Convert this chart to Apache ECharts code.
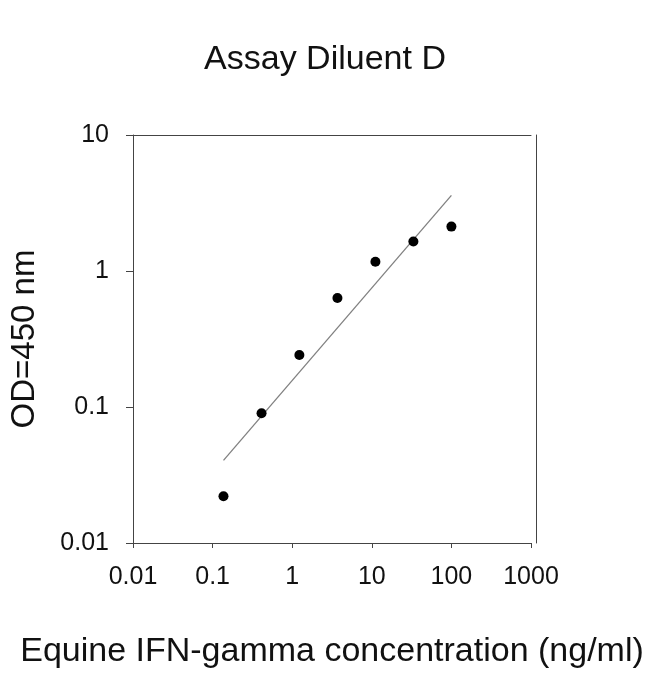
<!DOCTYPE html>
<html>
<head>
<meta charset="utf-8">
<script src="https://cdn.jsdelivr.net/npm/echarts@6/dist/echarts.min.js"></script>
<style>
html,body{margin:0;padding:0;background:#fff;}
#chart{width:650px;height:674px;}
</style>
</head>
<body>
<div id="chart"></div>
<script>
// Concentration (ng/ml) and measured OD=450 nm
var concentration = [0.137, 0.412, 1.23, 3.7, 11.1, 33.3, 100];
var odValues = [0.0221, 0.090, 0.241, 0.634, 1.17, 1.65, 2.12];
// Fitted line end points
var fitX = [0.137, 100];
var fitY = [0.0405, 3.6];
// Tick labels
var xTickLabels = ['0.01', '0.1', '1', '10', '100', '1000'];
var yTickLabels = ['0.01', '0.1', '1', '10'];

var FONT = '"Liberation Sans", Arial, sans-serif';

function labelFor(list, minExp) {
  return function (v) {
    var i = Math.round(Math.log10(v)) - minExp;
    return list[i] !== undefined ? list[i] : '';
  };
}

var points = concentration.map(function (c, i) { return [c, odValues[i]]; });
var fitLine = fitX.map(function (x, i) { return [x, fitY[i]]; });

var axisColor = '#444';
var chart = echarts.init(document.getElementById('chart'), null, {renderer: 'canvas'});
chart.setOption({
  animation: false,
  backgroundColor: '#fff',
  title: {
    text: 'Assay Diluent D',
    left: 'center',
    top: 38,
    textStyle: {fontFamily: FONT, fontSize: 34, fontWeight: 'normal', color: '#111'}
  },
  grid: {left: 129, right: 119, top: 135, bottom: 126, containLabel: false},
  xAxis: [{
    type: 'log', logBase: 10, min: 0.01, max: 1000,
    position: 'bottom',
    name: 'Equine IFN-gamma concentration (ng/ml)',
    nameLocation: 'middle', nameGap: 92,
    nameTextStyle: {fontFamily: FONT, fontSize: 34, color: '#111'},
    axisLine: {show: true, lineStyle: {color: axisColor, width: 1}},
    axisTick: {show: true, length: 5, inside: false, lineStyle: {color: axisColor}},
    minorTick: {show: false},
    splitLine: {show: false},
    axisLabel: {fontFamily: FONT, fontSize: 25, color: '#111', margin: 22, formatter: labelFor(xTickLabels, -2)}
  }, {
    type: 'log', logBase: 10, min: 0.01, max: 1000,
    position: 'top',
    axisLine: {show: true, lineStyle: {color: axisColor, width: 1}},
    axisTick: {show: false}, axisLabel: {show: false}, splitLine: {show: false}
  }],
  yAxis: [{
    type: 'log', logBase: 10, min: 0.01, max: 10,
    position: 'left',
    name: 'OD=450 nm',
    nameLocation: 'middle', nameGap: 92, nameRotate: 90,
    nameTextStyle: {fontFamily: FONT, fontSize: 33, color: '#111'},
    axisLine: {show: true, lineStyle: {color: axisColor, width: 1}},
    axisTick: {show: true, length: 7, inside: false, lineStyle: {color: axisColor}},
    minorTick: {show: false},
    splitLine: {show: false},
    axisLabel: {fontFamily: FONT, fontSize: 25, color: '#111', margin: 24, formatter: labelFor(yTickLabels, -2)}
  }, {
    type: 'log', logBase: 10, min: 0.01, max: 10,
    position: 'right', offset: 5,
    axisLine: {show: true, lineStyle: {color: axisColor, width: 1}},
    axisTick: {show: false}, axisLabel: {show: false}, splitLine: {show: false}
  }],
  series: [{
    type: 'line',
    data: fitLine,
    xAxisIndex: 0, yAxisIndex: 0,
    symbol: 'none',
    lineStyle: {color: '#808080', width: 1.3},
    silent: true,
    z: 1
  }, {
    type: 'scatter',
    data: points,
    xAxisIndex: 0, yAxisIndex: 0,
    symbol: 'circle',
    symbolSize: 10,
    itemStyle: {color: '#000', opacity: 1},
    z: 2
  }]
});
</script>
</body>
</html>
